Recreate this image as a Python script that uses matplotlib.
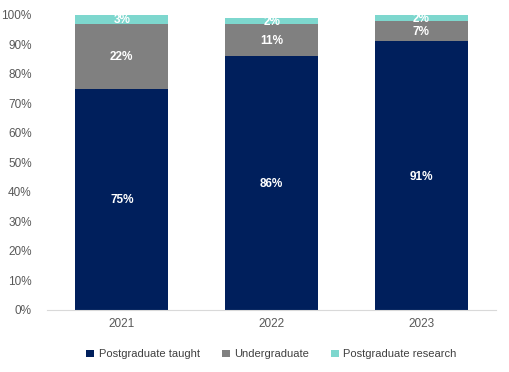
import matplotlib.pyplot as plt
import numpy as np
from matplotlib.ticker import PercentFormatter

years = ["2021", "2022", "2023"]
pg_taught = [75, 86, 91]
undergrad = [22, 11, 7]
pg_research = [3, 2, 2]

plt.rcParams['font.family'] = ['Liberation Sans', 'DejaVu Sans']

fig = plt.figure(figsize=(5.1, 3.72), dpi=100)
ax = fig.add_axes([0.092, 0.167, 0.881, 0.793])

x = np.arange(len(years))
w = 0.62
series = [
    ("Postgraduate taught", pg_taught, "#001F5C"),
    ("Undergraduate", undergrad, "#808080"),
    ("Postgraduate research", pg_research, "#7DD7CE"),
]
bottom = np.zeros(len(years))
for name, vals, col in series:
    ax.bar(x, vals, w, bottom=bottom, color=col, label=name, linewidth=0)
    for xi, b, v in zip(x, bottom, vals):
        ax.text(xi, b + v / 2 - 0.4, f"{v}%", ha="center", va="center",
                color="white", fontsize=8.5, fontweight="bold")
    bottom += np.array(vals)

ax.set_xlim(-0.5, 2.5)
ax.set_ylim(0, 100)
ax.set_yticks(range(0, 101, 10))
ax.yaxis.set_major_formatter(PercentFormatter(decimals=0))
ax.set_xticks(x)
ax.set_xticklabels(years)
ax.tick_params(axis="both", length=0, labelsize=8.5, colors="#595959")
ax.tick_params(axis="y", pad=11)
ax.tick_params(axis="x", pad=6)
for s in ["top", "right", "left"]:
    ax.spines[s].set_visible(False)
ax.spines["bottom"].set_color("#D9D9D9")

ax.legend(loc="upper center", bbox_to_anchor=(0.5, -0.1), ncol=3,
          frameon=False, fontsize=8, handlelength=0.7, handleheight=0.7,
          columnspacing=2.0, handletextpad=0.4, labelcolor="#404040")

fig.savefig("out.png", dpi=100)
